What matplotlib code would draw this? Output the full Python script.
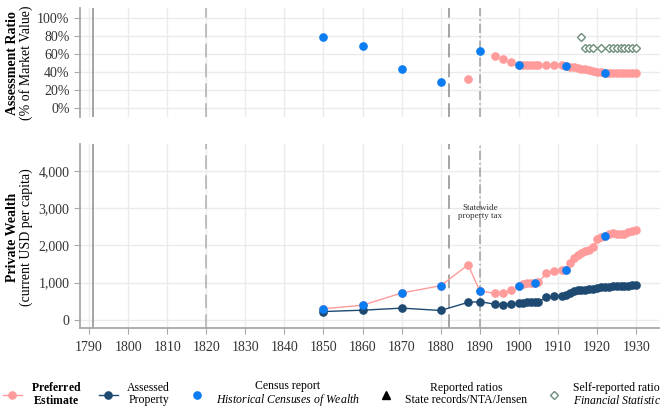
import matplotlib
matplotlib.use("Agg")
import matplotlib.pyplot as plt
from matplotlib.lines import Line2D
from matplotlib.ticker import FuncFormatter

plt.rcParams["font.family"] = ["Liberation Serif", "DejaVu Serif"]
plt.rcParams["mathtext.fontset"] = "custom"
plt.rcParams["mathtext.rm"] = "Liberation Serif"
plt.rcParams["mathtext.it"] = "Liberation Serif:italic"
plt.rcParams["mathtext.bf"] = "Liberation Serif:bold"

# ---- data ----
years = [1850, 1860, 1870, 1880, 1887, 1890, 1894, 1896, 1898, 1900, 1901, 1902,
         1903, 1904, 1905, 1907, 1909, 1911, 1912, 1913, 1914, 1915, 1916, 1917,
         1918, 1919, 1920, 1921, 1922, 1923, 1924, 1925, 1926, 1927, 1928, 1929, 1930]

preferred_wealth = [295, 390, 720, 917, 1480, 772, 710, 719, 800, 917, 975, 985,
                    990, 990, 1007, 1250, 1312, 1339, 1339, 1537, 1672, 1744, 1790, 1840,
                    1890, 1960, 2166, 2238, 2265, 2319, 2337, 2310, 2319, 2310, 2364, 2400, 2427]

assessed_wealth = [220, 256, 312, 248, 468, 487, 413, 404, 422, 440, 458, 476,
                   476, 476, 485, 602, 629, 647, 665, 728, 773, 791, 800, 809,
                   818, 827, 863, 872, 881, 890, 899, 899, 908, 908, 917, 926, 944]

ratio_years = [1887, 1894, 1896, 1898, 1900, 1901, 1902, 1903, 1904, 1905, 1907, 1909,
               1911, 1912, 1913, 1914, 1915, 1916, 1917, 1918, 1919, 1920, 1921, 1922,
               1923, 1924, 1925, 1926, 1927, 1928, 1929, 1930]
preferred_ratio = [0.32, 0.572, 0.539, 0.506, 0.476, 0.476, 0.476, 0.476, 0.476, 0.476, 0.476, 0.475,
                   0.47, 0.465, 0.458, 0.45, 0.442, 0.434, 0.426, 0.418, 0.41, 0.40, 0.392, 0.388,
                   0.388, 0.388, 0.388, 0.388, 0.388, 0.388, 0.388, 0.388]

census_years = [1850, 1860, 1870, 1880, 1890, 1900, 1904, 1912, 1922]
census_ratio = [0.79, 0.686, 0.432, 0.288, 0.635, 0.476, None, 0.465, 0.384]
census_wealth = [295, 390, 720, 917, 772, 917, 990, 1339, 2265]

self_years = [1916, 1917, 1918, 1919, 1921, 1923, 1924, 1925, 1926, 1927, 1928, 1929, 1930]
self_ratio = [0.785, 0.663, 0.663, 0.663, 0.663, 0.663, 0.663, 0.663, 0.663, 0.663, 0.663, 0.663, 0.663]

decade_ticks = list(range(1790, 1931, 10))
ratio_ticks = [0, 0.2, 0.4, 0.6, 0.8, 1.0]
wealth_ticks = [0, 1000, 2000, 3000, 4000]

# ---- style ----
c_pref = "#ff9b9b"
c_assess = "#1e4a72"
c_census = "#0b7cf2"
c_self = "#6f8f7b"
c_grid = "#ebebeb"
c_spine = "#a8a8a8"

fig = plt.figure(figsize=(6.6, 4.09), dpi=100)
ax1 = fig.add_axes([80 / 660, 1 - 117 / 409, 580 / 660, 109 / 409])
ax2 = fig.add_axes([80 / 660, 1 - 328 / 409, 580 / 660, 184 / 409])

xlim = (1787.7, 1936.1)


def style(ax):
    ax.set_xlim(*xlim)
    ax.set_xticks(decade_ticks)
    ax.grid(True, color=c_grid, linewidth=1.0)
    ax.set_axisbelow(True)
    for s in ["top", "right"]:
        ax.spines[s].set_visible(False)
    ax.spines["left"].set_color(c_spine)
    ax.spines["left"].set_linewidth(1.3)
    ax.spines["bottom"].set_color(c_spine)
    ax.spines["bottom"].set_linewidth(1.3)
    ax.tick_params(colors="#333333", labelsize=10, length=4, width=0.8)
    ax.tick_params(axis="both", color=c_spine)
    ax.tick_params(axis="x", pad=5.5)
    for v, ls, col in [(1791, "-", "#8c8c8c"), (1820, (0, (9, 4)), "#b0b0b0"),
                       (1882, (0, (9, 4)), "#8c8c8c"), (1890, (0, (6, 2, 1, 2)), "#a0a0a0")]:
        ax.axvline(v, linestyle=ls, color=col, linewidth=1.1, zorder=1)


# top panel: assessment ratios
style(ax1)
ax1.spines["bottom"].set_visible(False)
ax1.tick_params(axis="x", length=0, labelbottom=False)
ax1.set_ylim(-0.103, 1.108)
ax1.set_yticks(ratio_ticks)
ax1.yaxis.set_major_formatter(FuncFormatter(lambda v, p: f"{v * 100:.0f}%"))
ax1.plot(ratio_years, preferred_ratio, "o", color=c_pref, markersize=5.2, zorder=3)
cy = [y for y, r in zip(census_years, census_ratio) if r is not None]
cr = [r for r in census_ratio if r is not None]
ax1.plot(cy, cr, "o", color=c_census, markersize=5.2, zorder=4)
ax1.plot(self_years, self_ratio, "D", markerfacecolor="white", markeredgecolor=c_self,
         markersize=4.5, markeredgewidth=1.0, zorder=4)

# bottom panel: private wealth
style(ax2)
ax2.set_ylim(-224, 4736)
ax2.set_yticks(wealth_ticks)
ax2.yaxis.set_major_formatter(FuncFormatter(lambda v, p: f"{v:,.0f}"))
ax2.plot(years, preferred_wealth, "-o", color=c_pref, markersize=5.2, linewidth=1.0, zorder=3)
ax2.plot(years, assessed_wealth, "-o", color=c_assess, markersize=5.2, linewidth=1.0, zorder=3)
ax2.plot(census_years, census_wealth, "o", color=c_census, markersize=5.2, zorder=4)
ax2.text(1890, 2900, "Statewide\nproperty tax", fontsize=6.5, color="#333333",
         ha="center", va="center", linespacing=1.0)

# axis titles
fig.text(13 / 660, 1 - 63 / 409, "Assessment Ratio", rotation=90, fontsize=10,
         fontweight="bold", ha="center", va="center")
fig.text(26 / 660, 1 - 63 / 409, "(% of Market Value)", rotation=90, fontsize=10,
         ha="center", va="center")
fig.text(13 / 660, 1 - 237 / 409, "Private Wealth", rotation=90, fontsize=10,
         fontweight="bold", ha="center", va="center")
fig.text(26 / 660, 1 - 237 / 409, "(current USD per capita)", rotation=90, fontsize=10,
         ha="center", va="center")

# legend
handles = [
    Line2D([], [], color=c_pref, marker="o", markersize=5.2, linewidth=1.0),
    Line2D([], [], color=c_assess, marker="o", markersize=5.2, linewidth=1.0),
    Line2D([], [], color=c_census, marker="o", markersize=5.2, linestyle="none"),
    Line2D([], [], color="black", marker="^", markersize=5.2, linestyle="none"),
    Line2D([], [], marker="D", markerfacecolor="white", markeredgecolor=c_self,
           markersize=4.5, linestyle="none"),
]
labels = [
    r"$\mathbf{Preferred}$" + "\n" + r"$\mathbf{Estimate}$",
    "Assessed\nProperty",
    "Census report\n" + r"$\mathit{Historical\ Censuses\ of\ Wealth}$",
    "Reported ratios\nState records/NTA/Jensen",
    "Self-reported ratios\n" + r"$\mathit{Financial\ Statistics}$",
]
leg = fig.legend(handles, labels, loc="center left", bbox_to_anchor=(-0.012, 0.036),
                 ncol=5, frameon=False, fontsize=8.5, handlelength=1.6,
                 handletextpad=0.8, columnspacing=1.45)
for t in leg.get_texts():
    t.set_multialignment("center")
    t.set_linespacing(1.0)

fig.savefig("out.png", dpi=100)
